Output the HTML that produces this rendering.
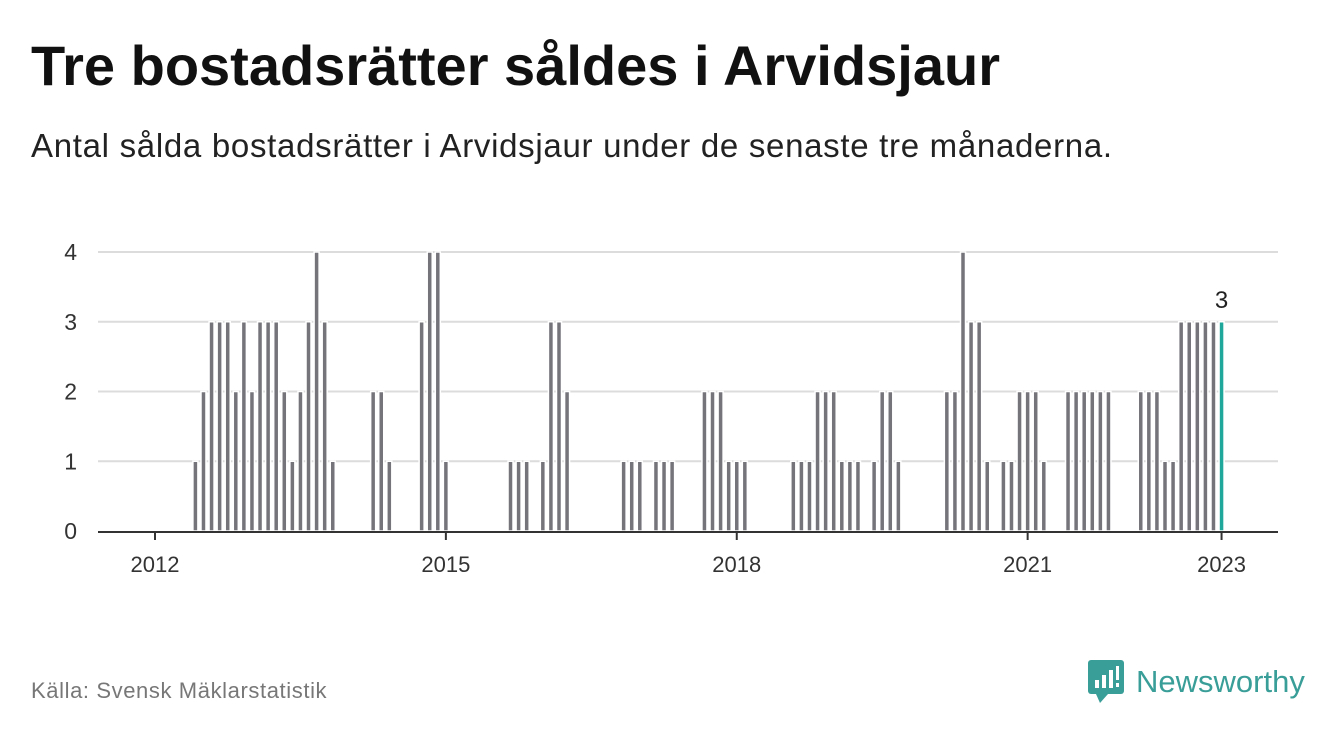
<!DOCTYPE html>
<html><head><meta charset="utf-8">
<style>
body{margin:0;background:#fff;width:1340px;height:734px;overflow:hidden;font-family:"Liberation Sans","DejaVu Sans",sans-serif;}
#title{position:absolute;left:31px;top:38px;font-size:56px;line-height:1;font-weight:bold;color:#111;margin:0;white-space:nowrap}
#sub{position:absolute;left:31px;top:129px;font-size:33px;line-height:1;color:#222;margin:0;letter-spacing:0.7px;white-space:nowrap}
#src{position:absolute;left:31px;top:678px;font-size:22px;color:#777;letter-spacing:0.6px}
#logo{position:absolute;left:1088px;top:660px;display:flex;align-items:center}
#logo span{font-size:31px;color:#3a9e98;margin-left:12px;font-weight:500}
svg#chart{position:absolute;left:0;top:0}
</style></head><body>
<h1 id="title">Tre bostadsrätter såldes i Arvidsjaur</h1>
<p id="sub">Antal sålda bostadsrätter i Arvidsjaur under de senaste tre månaderna.</p>
<div id="src">Källa: Svensk Mäklarstatistik</div>
<div id="logo">
<svg width="36" height="44" viewBox="0 0 36 44"><rect x="0" y="0" width="36" height="34" rx="3" fill="#3a9e98"/><polygon points="8,34 20,34 12,43" fill="#3a9e98"/><rect x="7" y="20" width="4" height="8" fill="#fff"/><rect x="14" y="15" width="4" height="13" fill="#fff"/><rect x="21" y="10" width="4" height="18" fill="#fff"/><rect x="28" y="6" width="3" height="14" fill="#fff"/><rect x="28" y="23" width="3" height="4" fill="#fff"/></svg>
<span>Newsworthy</span></div>
<svg id="chart" width="1340" height="734"></svg>
<script>
const startYear = 2012;
const values = [0,0,0,0,0,
1,2,3,3,3,2,3,2,3,3,3,2,1,2,3,4,3,1,
0,0,0,0, 2,2,1, 0,0,0, 3,4,4,1, 0,0,0,0,0,0,0, 1,1,1, 0, 1,3,3,2,
0,0,0,0,0,0, 1,1,1, 0, 1,1,1, 0,0,0, 2,2,2,1,1,1, 0,0,0,0,0,
1,1,1,2,2,2,1,1,1, 0, 1,2,2,1, 0,0,0,0,0, 2,2,4,3,3,1, 0, 1,1,2,2,2,1, 0,0,
2,2,2,2,2,2, 0,0,0, 2,2,2,1,1,3,3,3,3,3,3];
const yTicks = [0,1,2,3,4];
const xTickLabels = ["2012","2015","2018","2021","2023"];
const xTickMonths = [0,36,72,108,132];

const NS="http://www.w3.org/2000/svg";
const svg=document.getElementById('chart');
const x0=155, step=8.08, y0=531, yUnit=69.75;
const xs=i=>x0+i*step;
const ys=v=>y0-v*yUnit;
function mk(t,a){const e=document.createElementNS(NS,t);for(const k in a)e.setAttribute(k,a[k]);svg.appendChild(e);return e;}
yTicks.forEach(v=>{
  if(v>0){const g=mk('line',{x1:98,x2:1278,y1:ys(v),y2:ys(v),stroke:'#dcdcdc','stroke-width':2});
  
  }
  const t=mk('text',{x:77,y:ys(v)+8,'text-anchor':'end','font-size':23,fill:'#333','font-family':'Liberation Sans, sans-serif'});
  t.textContent=v;
  
  
});
values.forEach((v,i)=>{
  if(v<=0)return;
  const last=i===values.length-1;
  const r=mk('rect',{x:xs(i)-2.5,y:ys(v),width:5,height:v*yUnit,fill:last?'#1fa79c':'#75747b',stroke:'#fff','stroke-width':1.5});
  
  
});
const ax=mk('line',{x1:98,x2:1278,y1:y0+1,y2:y0+1,stroke:'#333','stroke-width':2});


xTickMonths.forEach((m,k)=>{
  const tl=mk('line',{x1:xs(m),x2:xs(m),y1:y0,y2:y0+9,stroke:'#333','stroke-width':2});
  
  
  const t=mk('text',{x:xs(m),y:572,'text-anchor':'middle','font-size':22,fill:'#333','font-family':'Liberation Sans, sans-serif'});
  t.textContent=xTickLabels[k];
  
  
});
const li=values.length-1;
const lab=mk('text',{x:xs(li),y:ys(values[li])-14,'text-anchor':'middle','font-size':24,fill:'#222','font-family':'Liberation Sans, sans-serif'});
lab.textContent=values[li];


</script>
</body></html>
